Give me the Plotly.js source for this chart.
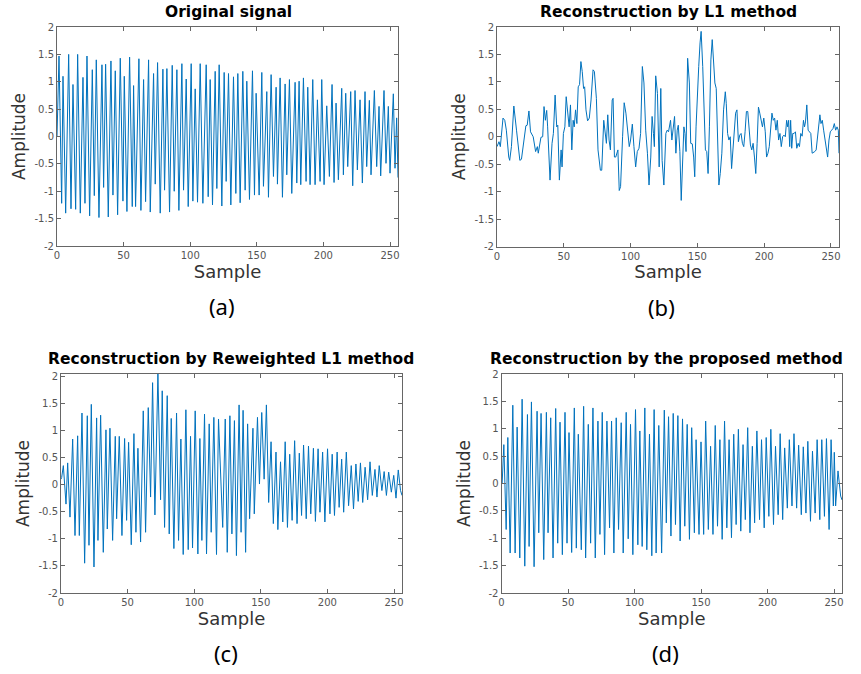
<!DOCTYPE html>
<html>
<head>
<meta charset="utf-8">
<script src="https://cdn.plot.ly/plotly-3.0.1.min.js"></script>
<style>html,body{margin:0;padding:0;background:#fff;}#chart{width:861px;height:674px;}</style>
</head>
<body>
<div id="chart"></div>
<script>
// ---- Panel (a): Original signal (extreme points)
const sampleA = [0,1.5,3.5,4.5,6.5,8.75,10.5,12,14,15.5,17.5,19.5,21,22.5,24.5,26.5,28,29.5,31.5,33.75,35,36.5,38.5,40.5,42,43.75,45.5,47.5,49.5,50.5,52.5,54.5,56.5,57.5,59,61.5,63,65,66.5,68.75,70,72.5,73.75,75.5,77.5,79.5,80.75,82.5,84.5,86.5,88,90,91.5,93.75,95,97,98.5,100.75,102,103.75,105.5,107.5,109.5,112,113.5,115,116.75,118.75,120,121.75,123.75,125.5,127,128.75,130.5,132.5,134.25,135.75,137.5,139.5,141.25,142.5,144.5,146.75,148.25,149.5,151.75,153.75,155,157.5,158.75,160.75,162.5,164.5,165.5,167.5,169.25,171.25,172.5,174.5,176.25,178.75,180,181.75,183,185,187,188.25,190,192,193.75,195.5,197.5,198.75,200.5,202.5,204.5,206.5,208,209.5,211.25,213.75,215,216.75,218.25,220.5,222,223.75,225.5,227.5,229.25,231.25,232.5,234.5,235.75,238.25,240,241.75,243,245.5,247,248.75,250,252.5,253.75,255,256];
const ampA = [0,1.47,-1.22,1.1,-1.4,1.5,-1.32,0.95,-1.33,1.5,-1.4,1.08,-1.22,1.47,-1.45,1.22,-1.08,1.4,-1.48,1.31,-0.93,1.32,-1.47,1.38,-1.07,1.2,-1.43,1.43,-1.18,1.1,-1.37,1.45,-1.28,0.93,-1.28,1.42,-1.35,1.04,-1.19,1.4,-1.38,1.15,-0.87,1.35,-1.4,1.23,-0.98,1.24,-1.38,1.3,-1.0,1.22,-1.35,1.33,-0.98,1.05,-1.28,1.33,-1.18,0.87,-1.2,1.33,-1.22,1.31,-1.1,1.04,-1.25,1.19,-0.95,1.31,-1.27,1.17,-0.82,1.15,-1.25,1.09,-1.04,1.15,-1.21,1.19,-0.98,1.01,-1.15,1.2,-1.07,0.79,-1.07,1.17,-0.91,0.82,-1.11,1.13,-0.73,0.9,-0.87,1.07,-1.11,0.96,-0.7,1.04,-1.04,0.99,-0.85,1.01,-0.88,1.07,-0.82,0.9,-0.88,1.04,-0.88,0.67,-0.82,1.04,-0.88,0.56,-0.73,0.95,-0.84,0.61,-0.79,0.88,-0.7,0.79,-0.55,0.82,-0.9,0.84,-0.61,0.67,-0.85,0.82,-0.55,0.66,-0.7,0.84,-0.55,0.55,-0.72,0.84,-0.49,0.55,-0.67,0.78,-0.58,0.34,-0.75];

// ---- Panel (b): Reconstruction by L1 method
const sampleB = [0,1.5,2.5,4.5,5.8,7,8.8,9.5,10.8,12.6,14.6,17.1,18.3,20.4,21.6,22.6,23.9,25.1,27.1,28.9,30.2,30.9,32.9,34.2,35.2,36.2,37.2,37.9,39.7,41.2,42.2,43.5,44.7,45.5,46.7,48,48.7,49.7,50.8,51.8,53,54,55,56,57,57.8,58.8,59.8,60.8,61.8,62.8,63.8,64.8,65.6,66.6,67.8,69.1,70.4,71.9,72.9,74.4,75.6,77.4,78.4,79.9,80.9,81.9,82.9,83.9,84.9,86.2,86.9,87.9,88.9,90.5,91.5,92.5,94,95.2,96.5,97.5,99,100,101.3,102.5,103.8,105,106.3,107.5,108.8,110,111.3,112.6,113.8,115.1,116.1,117.1,117.8,118.8,120.1,121.4,122.1,122.6,123.6,124.9,126.4,127.4,128.4,128.9,129.9,130.9,131.9,132.9,133.9,134.9,135.7,136.9,137.9,138.9,139.9,140.7,141.5,142.7,144,145,146.2,147.2,148,149,150,151,152,152.8,154,155,156,157,158,159,160.1,161.1,162.1,163.1,164.1,165.1,166.1,167.1,168.3,169.6,170.9,171.6,172.6,173.6,174.6,175.6,176.6,177.6,178.6,179.6,180.7,181.7,182.7,183.7,184.7,185.7,186.7,187.7,188.7,189.7,190.7,191.7,192.7,193.7,194.7,195.7,196.7,197.7,198.7,199.7,200.8,201.8,202.8,203.8,204.8,205.8,206.8,207.8,208.8,209.8,210.8,211.8,212.8,213.8,214.8,215.8,216.8,217.6,218.3,219.1,219.8,220.6,221.4,222.4,223.4,224.4,225.4,226.4,227.4,228.4,229.4,230.2,230.9,231.9,232.9,233.9,234.9,235.9,236.9,237.9,238.9,239.9,241,241.7,242.5,243.5,244.5,245.5,246.5,247.5,248.5,249.5,250.5,251.5,252.5,253.5,254.5,255.5,256];
const ampB = [-0.18,-0.09,-0.18,0.34,0.3,0.12,-0.37,-0.43,-0.18,0.56,0.12,-0.43,-0.41,0,0.2,0.21,0.47,0.09,0,-0.27,-0.18,-0.3,-0.01,0,0.55,0.3,0.48,0.18,-0.79,-0.12,0.06,0.76,0.18,0.21,-0.79,-0.24,-0.55,0.06,0.18,0.73,0.37,0.18,0.58,-0.24,0.3,0.18,0.49,0.24,0.91,0.95,1.37,1.19,0.88,0.91,0.49,0.29,0.34,0.67,1.22,1.19,0.7,-0.24,-0.61,-0.61,0.3,0.09,-0.12,0.4,-0.06,-0.24,0.67,0.7,-0.37,-0.37,-0.24,-0.98,-0.91,0,0.62,0.43,0.18,-0.18,-0.06,0.23,-0.18,-0.55,-0.27,-0.21,0.06,1.28,0.98,0.12,-0.3,-0.88,-0.37,0.37,0.06,-0.18,1.11,0.79,-0.55,0.85,0.88,-0.43,-0.88,0.06,0.12,0.09,0.15,0.3,-0.06,0.18,0.37,-0.3,0.12,0.21,-0.27,-1.16,-0.37,0.18,0.06,-0.27,1.43,0.98,-0.12,-0.13,-0.37,-0.73,0.18,0.91,1.28,1.71,1.92,1.28,0.4,-0.24,-0.27,-0.67,0.18,1.4,1.77,1.28,0.98,0.88,0.06,-0.88,-0.67,-0.3,0.49,0.82,0.61,0.06,-0.06,0,-0.58,-0.18,0.18,0.43,0.49,-0.09,0.03,0.06,-0.12,-0.18,0.09,0.46,0.46,0.18,-0.15,-0.24,-0.12,-0.37,-0.67,-0.12,0.54,0.43,0.3,0.18,0.34,0.09,-0.37,-0.3,-0.18,0.06,0.43,0.3,0.34,0.12,0.3,-0.06,0.06,-0.18,0,0.03,0,0.3,0.18,0.3,-0.18,0.3,-0.21,0.06,0.06,0.09,-0.21,-0.12,-0.18,0.06,0.01,0.3,0.18,0.27,0.58,0.12,0.09,0.06,-0.3,-0.29,-0.27,-0.24,0,0.24,0.4,0.24,0.3,0.12,-0.06,-0.18,-0.37,-0.06,0.09,0.12,0.15,0.24,0.12,0.18,0.12,-0.3];

// ---- Panel (c): Reconstruction by Reweighted L1 method
const sampleC = [0,0.5,1.75,3.75,5,6.75,8.75,10.5,12.5,13.75,15.75,17.75,19.75,21,22.75,24.75,26.75,27.75,29.75,31.75,33.75,34.75,36.75,38.75,40.75,41.75,43.75,45.75,47.75,49.25,50.75,52.75,54.75,56.25,57.75,59.75,61.75,63.5,65.5,67.25,68.75,70.5,72.75,74.75,76,77.75,79.75,81.25,82.75,84.75,86.75,88.25,90,91.75,93.75,95.5,97.25,98.75,100.75,102.75,104.25,105.75,107.75,109.25,111.25,112.75,114.75,116.75,118.25,121.4,123.3,124.8,126.8,128.3,130.2,131.7,133.7,135.2,136.7,138.6,140.1,141.6,144.1,145.1,147.5,149,150.7,152.5,154.2,155.9,157.7,159.4,161.4,162.8,164.8,166.5,168.3,170,171.7,173.5,175.4,177.2,178.9,180.6,182.1,184.1,185.8,187.5,189.5,191,193,194.4,196.4,198.1,200.1,201.9,203.6,205.3,207.3,208.8,210.7,212.2,214.2,215.9,217.9,219.6,221.4,223.1,224.8,226.5,228.3,230.2,232,233.7,235.7,237.2,238.9,240.9,242.6,244.3,246,248,249.8,251.5,253.2,254.9,256];
const ampC = [0.1,0.13,0.35,-0.36,0.4,-0.6,0.84,-0.94,0.9,-0.94,1.32,-1.45,1.27,-1.12,1.48,-1.52,1.23,-1.03,1.28,-1.25,1.01,-0.82,1.04,-1.03,0.89,-0.63,0.89,-0.94,0.85,-0.66,0.78,-1.11,0.94,-0.88,0.67,-1.06,1.36,-0.88,1.42,-0.23,1.88,-0.56,2.05,-0.28,1.73,-0.79,1.64,-0.91,1.22,-1.18,1.32,-1.03,0.84,-1.29,1.38,-1.2,0.89,-1.17,1.36,-1.28,0.85,-1.03,1.3,-1.28,1.12,-0.88,1.24,-1.29,1.21,-0.79,1.21,-1.25,1.27,-0.91,1.18,-1.31,1.47,-0.88,1.37,-1.25,1.12,-0.63,1.04,-0.54,1.24,0.01,1.33,0.1,1.47,-0.33,0.79,-0.72,0.6,-0.83,0.42,-0.69,0.79,-0.79,0.56,-0.66,0.81,-0.72,0.58,-0.57,0.73,-0.63,0.71,-0.54,0.67,-0.68,0.66,-0.51,0.6,-0.69,0.66,-0.54,0.56,-0.57,0.6,-0.42,0.47,-0.51,0.6,-0.39,0.35,-0.45,0.38,-0.31,0.4,-0.33,0.32,-0.28,0.42,-0.2,0.28,-0.23,0.35,-0.11,0.24,-0.2,0.23,-0.14,0.17,-0.25,0.27,-0.11,-0.2];

// ---- Panel (d): Reconstruction by the proposed method
const sampleD = [0,0.5,1.75,3.5,4.75,6.5,8.5,10.25,11.75,13.75,15.5,17.5,19.5,20.75,22.5,24.5,26.75,28,29.75,31.75,33.75,35,37,38.75,40.75,42.25,44,45.75,47.75,49.25,50.75,52.75,54.75,56.25,57.75,60,61.75,63.25,65.25,67,68.75,70.5,72.5,74,75.75,77.5,79.25,81.25,82.75,84.5,86.25,88,90,91.5,93.75,95.25,97,98.75,100.75,102.5,104,105.75,107.75,109.25,111.25,113,114.75,116.25,118.25,120.4,122.4,123.9,125.6,127.4,129.1,130.8,132.6,134.3,136.1,137.8,139.6,141.3,143,145,146.3,148.5,150,152,153.5,155.5,157.2,159,160.7,162.4,164.2,165.9,167.7,169.4,171.1,172.9,174.6,176.4,178.1,179.9,181.6,183.3,185.1,186.8,188.6,190.3,192,194,195.5,197.5,199,201,202.5,204.5,206,208,209.5,211.4,212.9,214.9,216.4,218.4,219.9,221.9,223.4,225.4,226.9,228.9,230.3,232.3,233.8,235.8,237.3,239.3,240.8,242.8,244.3,246.3,247.8,249.5,250.2,251.2,253,255,256];
const ampD = [0,0.01,0.71,-0.84,0.84,-1.27,1.43,-1.27,1.03,-1.36,1.54,-1.51,1.26,-1.15,1.49,-1.52,1.32,-0.9,1.28,-1.39,1.3,-0.9,1.2,-1.36,1.37,-1.09,1.12,-1.3,1.3,-1.09,0.93,-1.26,1.38,-1.18,0.9,-1.21,1.41,-1.36,1.08,-1.09,1.38,-1.36,1.14,-0.93,1.3,-1.3,1.14,-0.81,1.14,-1.27,1.2,-0.84,1.11,-1.27,1.3,-1.01,1.08,-1.3,1.35,-1.12,0.96,-1.15,1.38,-1.21,0.9,-1.32,1.35,-1.27,1.06,-1.27,1.34,-0.72,1.22,-0.96,1.28,-0.75,1.24,-1.05,1.18,-0.78,1.08,-1.02,1.02,-0.9,0.8,-0.93,0.76,-0.93,1.14,-0.84,0.68,-0.93,1.06,-0.78,0.8,-1.02,1.14,-0.81,0.8,-0.99,0.9,-0.75,0.99,-0.87,0.71,-0.66,1.02,-0.9,0.68,-0.72,0.96,-0.66,0.8,-0.81,0.84,-0.6,0.99,-0.75,0.68,-0.57,0.91,-0.66,0.65,-0.45,0.8,-0.41,0.91,-0.45,0.7,-0.57,0.67,-0.54,0.77,-0.69,0.59,-0.54,0.8,-0.66,0.8,-0.6,0.82,-0.84,0.8,-0.41,0.57,-0.41,0.23,-0.23,-0.3];

const titles = ['Original signal','Reconstruction by L1 method','Reconstruction by Reweighted L1 method','Reconstruction by the proposed method'];
const captions = ['(a)','(b)','(c)','(d)'];
const xTickVals = [0,50,100,150,200,250];
const yTickVals = [-2,-1.5,-1,-0.5,0,0.5,1,1.5,2];
const yTickText = ['-2','-1.5','-1','-0.5','0','0.5','1','1.5','2'];

const W = 861, H = 674;
const lineColor = '#0072BD';
const series = [[sampleA, ampA],[sampleB, ampB],[sampleC, ampC],[sampleD, ampD]];
// plot-area boxes in pixels: [left, right, top, bottom]
const boxes = [[57,398,27,246],[497,839,27,246.5],[61,402,374,593],[501.5,842,374,593]];
const yRanges = [[-2,2],[-2,2],[-2,2.04],[-2,2]];
const titleCenters = [228, 668, 231, 666];

const traces = [];
const layout = {
  width: W, height: H, margin: {l:0,r:0,t:0,b:0},
  paper_bgcolor: '#fff', plot_bgcolor: '#fff', showlegend: false,
  annotations: []
};
const tickFont = {family: 'DejaVu Sans, sans-serif', size: 10, color: '#555'};
const yTitleFont = {family: 'DejaVu Sans, sans-serif', size: 17, color: '#333'};
const xTitleFont = {family: 'DejaVu Sans, sans-serif', size: 18, color: '#333'};

series.forEach((s, i) => {
  const n = i === 0 ? '' : String(i + 1);
  traces.push({x: s[0], y: s[1], type: 'scatter', mode: 'lines',
    line: {color: lineColor, width: 1}, xaxis: 'x' + n, yaxis: 'y' + n, hoverinfo: 'skip'});
  const b = boxes[i];
  const common = {showline: true, mirror: 'ticks', linecolor: '#666', linewidth: 1,
    ticks: 'inside', ticklen: 4, tickcolor: '#666', showgrid: false, zeroline: false,
    tickfont: tickFont};
  layout['xaxis' + n] = Object.assign({}, common, {
    domain: [b[0]/W, b[1]/W], range: [0, 256], tickvals: xTickVals,
    anchor: 'y' + n, title: {text: 'Sample', font: xTitleFont, standoff: 2}
  });
  layout['yaxis' + n] = Object.assign({}, common, {
    domain: [1 - b[3]/H, 1 - b[2]/H], range: yRanges[i], tickvals: yTickVals, ticktext: yTickText,
    anchor: 'x' + n, title: {text: 'Amplitude', font: yTitleFont, standoff: 4}
  });
  layout.annotations.push({text: '<b>' + titles[i] + '</b>', xref: 'paper', yref: 'paper',
    x: titleCenters[i] / W, y: 1 - (b[2] - 15) / H, xanchor: 'center', yanchor: 'middle',
    showarrow: false, font: {family: 'DejaVu Sans, sans-serif', size: 15.5, color: '#000'}});
  layout.annotations.push({text: captions[i], xref: 'paper', yref: 'paper',
    x: (b[0] + b[1]) / 2 / W - 6/W, y: 1 - (b[3] + 60) / H, xanchor: 'center', yanchor: 'middle',
    showarrow: false, font: {family: 'Noto Sans, sans-serif', size: 22, color: '#000'}});
});

Plotly.newPlot('chart', traces, layout, {staticPlot: true});
</script>
</body>
</html>
